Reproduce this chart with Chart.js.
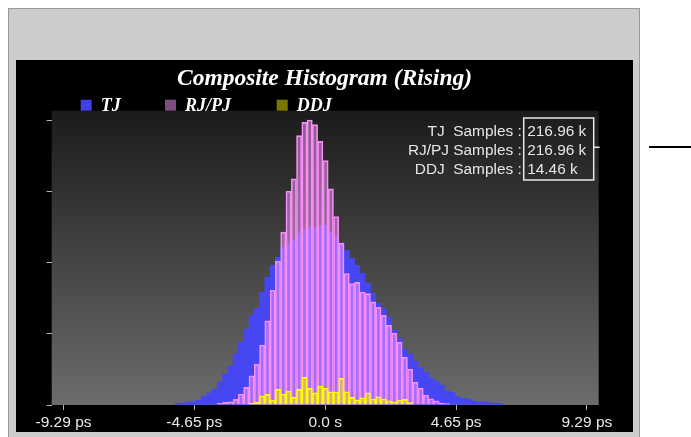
<!DOCTYPE html>
<html>
<head>
<meta charset="utf-8">
<script src="https://cdn.jsdelivr.net/npm/chart.js@4.4.1/dist/chart.umd.min.js"></script>
<style>
  html, body { margin: 0; padding: 0; background: #fff; overflow: hidden; }
  #frame { position: absolute; left: 8px; top: 8px; width: 630px; height: 440px; background: #cccccc; border: 1px solid #9a9a9a; }
  #panel { position: absolute; left: 16px; top: 60px; width: 617px; height: 372px; background: #000; }
  #lead { position: absolute; left: 649px; top: 146px; width: 42px; height: 2px; background: #000; }
</style>
</head>
<body>
<div id="frame"></div>
<div id="panel"><canvas id="histChart"></canvas></div>
<div id="lead"></div>
<script>
// histogram bins (ps) - all three histograms share the same bin grid
const binStart = -5.334;
const binWidth = 0.1876;

// TJ counts, bins 0..61
const tjCounts = [70, 94, 140, 164, 234, 421, 561, 748, 1076, 1450,
  1824, 2386, 2947, 3555, 4210, 4538, 5286, 5988, 6549, 6923,
  7391, 7578, 7719, 8046, 8233, 8327, 8350, 8420, 8440, 8093,
  7859, 7578, 7251, 6877, 6549, 6175, 5707, 5239, 4772, 4538,
  4117, 3509, 3134, 2606, 2386, 2058, 1764, 1530, 1277, 1123,
  936, 669, 594, 388, 313, 281, 187, 154, 154, 108, 80, 80];

// RJ/PJ counts, starting at bin 8
const rjpjFirstBin = 8;
const rjpjCounts = [80, 126, 154, 267, 515, 828, 1371, 1918, 2807, 3944,
  5380, 6750, 8107, 10025, 10605, 12631, 13253, 13365, 13145, 12364,
  11461, 10137, 8841, 7592, 6161, 5693, 5750, 5300, 5225, 4832,
  4584, 4210, 3742, 3368, 2947, 2245, 1684, 1076, 795, 468,
  295, 201, 94, 70];

// DDJ counts, starting at bin 14
const ddjFirstBin = 14;
const ddjCounts = [80, 126, 421, 501, 234, 734, 515, 655, 360, 734,
  1296, 781, 575, 889, 781, 622, 608, 1249, 622, 360,
  234, 341, 575, 281, 388, 281, 201, 154, 234, 267, 108];

const xTickValues = [-9.29, -4.65, 0, 4.65, 9.29];
const xTickLabels = ['-9.29 ps', '-4.65 ps', '0.0 s', '4.65 ps', '9.29 ps'];
const yTickValues = [0, 3333.3, 6666.7, 10000, 13333.3];

const sampleLabels = ['TJ  Samples :', 'RJ/PJ Samples :', 'DDJ  Samples :'];
const sampleTotals = ['216.96 k', '216.96 k', '14.46 k'];

function binPoints(counts, firstBin) {
  return counts.map((c, i) => ({ x: binStart + binWidth * (firstBin + i + 0.5), y: c }));
}

// gray gradient behind the bars
const plotBackground = {
  id: 'plotBackground',
  beforeDraw(chart) {
    const { ctx, chartArea: a } = chart;
    const g = ctx.createLinearGradient(0, a.top, 0, a.bottom);
    g.addColorStop(0, '#1b1b1b');
    g.addColorStop(1, '#6c6c6c');
    ctx.save();
    ctx.fillStyle = g;
    ctx.fillRect(a.left, a.top, a.width, a.height);
    ctx.restore();
  }
};

// legend row under the title
const seriesLegend = {
  id: 'seriesLegend',
  afterDraw(chart) {
    const { ctx, chartArea: a } = chart;
    const offsets = [29, 113.3, 225];
    ctx.save();
    ctx.font = 'italic bold 18px "Liberation Serif"';
    ctx.textBaseline = 'alphabetic';
    chart.data.datasets.forEach((ds, i) => {
      const x = a.left + offsets[i];
      ctx.fillStyle = ds.legendColor;
      ctx.fillRect(x, 39.7, 11, 11);
      ctx.fillStyle = '#ffffff';
      ctx.fillText(ds.label, x + 20, 50.7);
    });
    ctx.restore();
  }
};

// sample counts box, top right
const sampleBox = {
  id: 'sampleBox',
  afterDraw(chart) {
    const { ctx, chartArea: a } = chart;
    const boxL = a.right - 75, boxR = a.right - 5;
    const boxT = a.top + 7.3, boxB = a.top + 69.3;
    ctx.save();
    ctx.strokeStyle = '#e8e8e8';
    ctx.lineWidth = 1.5;
    ctx.strokeRect(boxL, boxT, boxR - boxL, boxB - boxT);
    ctx.beginPath();
    ctx.moveTo(boxR, a.top + 36.6);
    ctx.lineTo(a.right + 1, a.top + 36.6);
    ctx.stroke();
    ctx.font = '15.4px "Liberation Sans"';
    ctx.fillStyle = '#e6e6e6';
    ctx.textBaseline = 'middle';
    sampleLabels.forEach((t, i) => {
      const y = a.top + 21 + i * 19.2;
      ctx.textAlign = 'right';
      ctx.fillText(t, boxL - 2, y);
      ctx.textAlign = 'left';
      ctx.fillText(sampleTotals[i], boxL + 3.5, y);
    });
    ctx.restore();
  }
};

const ctx = document.getElementById('histChart').getContext('2d');
new Chart(ctx, {
  type: 'bar',
  data: {
    datasets: [
      {
        label: 'TJ',
        data: binPoints(tjCounts, 0),
        backgroundColor: '#4646f2',
        legendColor: '#4040e6',
        borderWidth: 0,
        order: 3
      },
      {
        label: 'RJ/PJ',
        data: binPoints(rjpjCounts, rjpjFirstBin),
        backgroundColor: 'rgba(255, 150, 255, 0.5)',
        legendColor: '#7f4c7f',
        borderColor: '#f58cf5',
        borderWidth: 1,
        order: 2
      },
      {
        label: 'DDJ',
        data: binPoints(ddjCounts, ddjFirstBin),
        backgroundColor: 'rgba(255, 240, 0, 0.5)',
        legendColor: '#7c7600',
        borderColor: '#ffff00',
        borderWidth: 1,
        order: 1
      }
    ]
  },
  options: {
    responsive: true,
    maintainAspectRatio: false,
    animation: false,
    events: [],
    grouped: false,
    barPercentage: 1,
    categoryPercentage: 1,
    layout: { padding: { left: 34.3, right: 34.3, top: 0, bottom: 0 } },
    scales: {
      x: {
        type: 'linear',
        offset: false,
        min: -9.71,
        max: 9.71,
        afterBuildTicks: (s) => { s.ticks = xTickValues.map(v => ({ value: v })); },
        afterFit: (s) => { s.height = 27; },
        ticks: {
          autoSkip: false,
          maxRotation: 0,
          padding: 3,
          color: '#e8e8e8',
          font: { family: 'Liberation Sans', size: 15.5 },
          callback: (v, i) => xTickLabels[i]
        },
        grid: { offset: false, drawOnChartArea: false, drawTicks: true, tickLength: 5, color: '#b4b4b4' },
        border: { display: false }
      },
      y: {
        min: 0,
        max: 13800,
        afterBuildTicks: (s) => { s.ticks = yTickValues.map(v => ({ value: v })); },
        afterFit: (s) => { s.width = 1.4; },
        ticks: { display: false },
        grid: { drawOnChartArea: false, drawTicks: true, tickLength: 5, color: '#b4b4b4' },
        border: { display: false }
      }
    },
    plugins: {
      legend: { display: false },
      tooltip: { enabled: false },
      title: {
        display: true,
        text: 'Composite Histogram (Rising)',
        color: '#ffffff',
        font: { family: 'Liberation Serif', size: 23.5, style: 'italic', weight: 'bold' },
        padding: { top: 5, bottom: 17.5 }
      }
    }
  },
  plugins: [plotBackground, seriesLegend, sampleBox]
});
</script>
</body>
</html>
